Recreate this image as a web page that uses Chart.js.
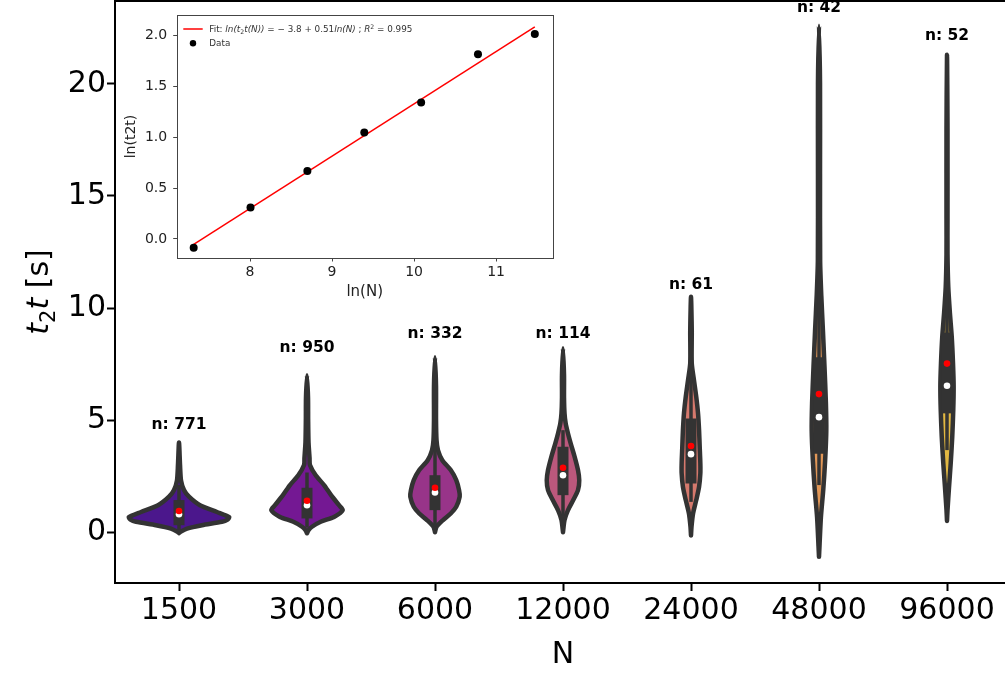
<!DOCTYPE html>
<html><head><meta charset="utf-8">
<script src="https://cdn.jsdelivr.net/npm/chart.js@4.4.1/dist/chart.umd.min.js"></script>
<style>
html,body{margin:0;padding:0;background:#fff;overflow:hidden;width:1005px;height:675px}
#main{position:absolute;left:0;top:0}
#inset{position:absolute;left:117px;top:3px}
</style></head><body>
<canvas id="main" width="1015" height="675"></canvas>
<canvas id="inset" width="445" height="305"></canvas>
<script>
// ---------------- data ----------------
const categories = ['1500','3000','6000','12000','24000','48000','96000'];
const sampleCounts = [771, 950, 332, 114, 61, 42, 52];
const countLabelY = [4.78, 8.21, 8.84, 8.84, 11.03, 23.38, 22.12];
const yTicks = [0, 5, 10, 15, 20];

// violin density profiles: value levels (top -> bottom) and half widths (category units)
const violinLevels = [
  [4.0, 3.0, 2.3, 1.88, 1.58, 1.2, 0.9, 0.67, 0.56, 0.46, 0.31, 0.16, 0.02, -0.04],
  [7.0, 6.0, 5.0, 4.0, 3.3, 3.0, 2.54, 2.1, 1.65, 1.2, 0.98, 0.68, 0.46, 0.24, 0.09, -0.05],
  [7.8, 6.5, 5.0, 4.1, 3.66, 3.21, 2.77, 2.32, 1.875, 1.58, 1.13, 0.83, 0.54, 0.24, 0.0],
  [8.2, 7.0, 6.0, 5.3, 4.85, 4.4, 3.96, 3.36, 2.77, 2.32, 1.875, 1.43, 0.98, 0.54, 0.0],
  [10.5, 9.0, 7.53, 6.79, 6.04, 5.3, 4.55, 3.81, 3.07, 2.62, 2.02, 1.43, 0.83, 0.24, -0.15],
  [22.6, 20.0, 16.0, 12.1, 10.55, 8.96, 7.37, 5.76, 4.5, 3.2, 1.94, 0.67, -0.61, -1.1],
  [21.3, 18.0, 14.0, 12.4, 10.95, 9.76, 8.72, 7.53, 6.49, 5.45, 4.25, 3.07, 2.02, 0.98, 0.5]
];
const violinHalfWidths = [
  [0, 0.008, 0.016, 0.039, 0.078, 0.164, 0.297, 0.391, 0.379, 0.336, 0.180, 0.063, 0.012, 0],
  [0, 0.008, 0.009, 0.012, 0.020, 0.023, 0.068, 0.133, 0.188, 0.250, 0.279, 0.211, 0.107, 0.039, 0.012, 0],
  [0, 0.008, 0.008, 0.012, 0.023, 0.057, 0.123, 0.166, 0.188, 0.193, 0.166, 0.123, 0.063, 0.012, 0],
  [0, 0.008, 0.008, 0.012, 0.021, 0.039, 0.060, 0.091, 0.117, 0.127, 0.117, 0.080, 0.039, 0.012, 0],
  [0, 0.006, 0.006, 0.023, 0.041, 0.055, 0.063, 0.068, 0.073, 0.073, 0.063, 0.041, 0.016, 0.004, 0],
  [0, 0.008, 0.008, 0.009, 0.018, 0.031, 0.043, 0.054, 0.057, 0.048, 0.034, 0.015, 0.004, 0],
  [0, 0.004, 0.004, 0.004, 0.010, 0.023, 0.037, 0.047, 0.052, 0.049, 0.041, 0.029, 0.016, 0.004, 0]
];
const boxQ1 = [0.31, 0.61, 0.98, 1.65, 2.17, 3.5, 5.3];
const boxQ3 = [1.43, 1.98, 2.54, 3.81, 5.07, 7.8, 8.9];
const whiskerLow = [0.10, 0.20, 0.24, 0.68, 1.35, 2.1, 3.66];
const whiskerHigh = [2.10, 2.66, 3.96, 4.55, 7.2, 12.0, 11.5];
const medians = [0.80, 1.20, 1.77, 2.54, 3.48, 5.13, 6.53];
const means = [0.94, 1.40, 1.98, 2.87, 3.84, 6.16, 7.52];

// inset: log-log fit
const insetLnN = [7.313, 8.006, 8.699, 9.393, 10.086, 10.779, 11.472];
const insetLnT = [-0.085, 0.31, 0.668, 1.049, 1.344, 1.819, 2.017];
const fitLineX = [7.313, 11.472];
const fitLineY = [-0.054, 2.088];
const insetXTicks = [8, 9, 10, 11];
const insetYTicks = [0, 0.5, 1.0, 1.5, 2.0];

// ---------------- styles ----------------
const violinColors = ['#4b178c', '#741893', '#983489', '#bb587c', '#d5796d', '#e19757', '#e2b842'];
const FAM = '"DejaVu Sans", sans-serif';
Chart.defaults.font.family = FAM;
Chart.defaults.color = '#000';

function drawRich(ctx, runs, x, y, size, align) {
  const spec = r => {
    const k = r[1];
    if (k === 'sub') return {font: (size * 0.7).toFixed(2) + 'px ' + FAM, dy: size * 0.22};
    if (k === 'sup') return {font: (size * 0.7).toFixed(2) + 'px ' + FAM, dy: -size * 0.38};
    return {font: (k === 'i' ? 'italic ' : '') + size + 'px ' + FAM, dy: 0};
  };
  let total = 0; const ws = [];
  for (const r of runs) { ctx.font = spec(r).font; const w = ctx.measureText(r[0]).width; ws.push(w); total += w; }
  let cx = align === 'center' ? x - total / 2 : x;
  ctx.textBaseline = 'alphabetic'; ctx.textAlign = 'left';
  runs.forEach((r, i) => { const s = spec(r); ctx.font = s.font; ctx.fillText(r[0], cx, y + s.dy); cx += ws[i]; });
}

function violinPoints(i) {
  const lv = violinLevels[i], hw = violinHalfWidths[i];
  const right = lv.map((v, k) => ({x: i + hw[k], y: v})).reverse();
  const left = lv.map((v, k) => ({x: i - hw[k], y: v}));
  return right.concat(left.slice(1));
}
function noPad(s) { s.paddingTop = 0; s.paddingBottom = 0; s.paddingLeft = 0; s.paddingRight = 0; }

// ---------------- main chart ----------------
const datasets = [];
datasets.push({type: 'scatter', data: means.map((v, i) => ({x: i, y: v})), pointRadius: 3.3,
  pointBackgroundColor: '#ff0000', pointBorderWidth: 0, pointHoverRadius: 3.3, order: 0});
datasets.push({type: 'scatter', data: medians.map((v, i) => ({x: i, y: v})), pointRadius: 3.3,
  pointBackgroundColor: '#ffffff', pointBorderWidth: 0, pointHoverRadius: 3.3, order: 1});
categories.forEach((c, i) => {
  datasets.push({type: 'line', data: [{x: i, y: boxQ1[i]}, {x: i, y: boxQ3[i]}], borderColor: '#333333',
    borderWidth: 11, borderCapStyle: 'butt', pointRadius: 0, fill: false, order: 2});
  datasets.push({type: 'line', data: [{x: i, y: whiskerLow[i]}, {x: i, y: whiskerHigh[i]}], borderColor: '#333333',
    borderWidth: 3.5, borderCapStyle: 'butt', pointRadius: 0, fill: false, order: 3});
  datasets.push({type: 'line', data: violinPoints(i), borderColor: '#333333', backgroundColor: violinColors[i],
    borderWidth: 4.5, borderJoinStyle: 'round', borderCapStyle: 'round', pointRadius: 0, fill: 'shape',
    tension: 0.25, order: 4});
});

const mainDecor = {
  id: 'mainDecor',
  afterDatasetsDraw(chart) {
    const ctx = chart.ctx, xs = chart.scales.x, ys = chart.scales.y;
    ctx.save();
    ctx.fillStyle = '#000';
    ctx.font = 'bold 15.5px ' + FAM;
    ctx.textAlign = 'center'; ctx.textBaseline = 'middle';
    sampleCounts.forEach((n, i) => {
      ctx.fillText('n: ' + n, xs.getPixelForValue(i), ys.getPixelForValue(countLabelY[i]));
    });
    ctx.restore();
  },
  afterDraw(chart) {
    const ctx = chart.ctx, a = chart.chartArea;
    ctx.save();
    ctx.strokeStyle = '#000'; ctx.lineWidth = 2;
    ctx.strokeRect(a.left, a.top, a.right - a.left, a.bottom - a.top);
    ctx.fillStyle = '#000';
    ctx.translate(48, (a.top + a.bottom) / 2);
    ctx.rotate(-Math.PI / 2);
    drawRich(ctx, [['t', 'i'], ['2', 'sub'], ['t', 'i'], [' [s]', 'n']], 0, 0, 30, 'center');
    ctx.restore();
  }
};

new Chart(document.getElementById('main'), {
  type: 'line',
  data: {datasets},
  options: {
    responsive: false, animation: false, devicePixelRatio: 1,
    layout: {autoPadding: false, padding: {left: 0, top: 1, right: 4, bottom: 0}},
    plugins: {legend: {display: false}, tooltip: {enabled: false}},
    scales: {
      x: {
        type: 'linear', min: -0.5, max: 6.5,
        afterBuildTicks: s => { s.ticks = categories.map((c, i) => ({value: i})); },
        afterFit: s => { s.height = 92; noPad(s); },
        ticks: {callback: v => categories[v] ?? '', font: {size: 30}, color: '#000', padding: 2, maxRotation: 0, autoSkip: false},
        grid: {drawOnChartArea: false, drawTicks: true, tickLength: 8, tickWidth: 2, tickColor: '#000'},
        border: {display: false},
        title: {display: true, text: 'N', font: {size: 30}, color: '#000', padding: {top: 0, bottom: 2}}
      },
      y: {
        type: 'linear', min: -2.27, max: 23.7,
        afterBuildTicks: s => { s.ticks = yTicks.map(v => ({value: v})); },
        afterFit: s => { s.width = 115; noPad(s); },
        ticks: {font: {size: 30}, color: '#000', padding: 1},
        grid: {drawOnChartArea: false, drawTicks: true, tickLength: 8, tickWidth: 2, tickColor: '#000'},
        border: {display: false}
      }
    }
  },
  plugins: [mainDecor]
});

// ---------------- inset chart ----------------
const insetDecor = {
  id: 'insetDecor',
  afterDraw(chart) {
    const ctx = chart.ctx, a = chart.chartArea;
    ctx.save();
    ctx.strokeStyle = '#444'; ctx.lineWidth = 1;
    ctx.strokeRect(Math.round(a.left) + 0.5, Math.round(a.top) + 0.5, Math.round(a.right - a.left), Math.round(a.bottom - a.top));
    // legend
    ctx.strokeStyle = '#ff0000'; ctx.lineWidth = 1.5;
    ctx.beginPath(); ctx.moveTo(66.3, 26); ctx.lineTo(85.7, 26); ctx.stroke();
    ctx.fillStyle = '#000';
    ctx.beginPath(); ctx.arc(76, 40.3, 3.2, 0, Math.PI * 2); ctx.fill();
    ctx.fillStyle = '#333';
    drawRich(ctx, [['Fit: ', 'n'], ['ln(t', 'i'], ['2', 'sub'], ['t(N))', 'i'], [' = \u2212 3.8 + 0.51', 'n'],
      ['ln(N)', 'i'], [' ; ', 'n'], ['R', 'i'], ['2', 'sup'], [' = 0.995', 'n']], 92.3, 29, 8.8, 'left');
    drawRich(ctx, [['Data', 'n']], 92.3, 43.3, 8.8, 'left');
    ctx.restore();
  }
};

new Chart(document.getElementById('inset'), {
  type: 'line',
  data: {datasets: [
    {type: 'scatter', data: insetLnN.map((x, i) => ({x, y: insetLnT[i]})), pointRadius: 4,
      pointBackgroundColor: '#000', pointBorderWidth: 0, order: 0},
    {type: 'line', data: fitLineX.map((x, i) => ({x, y: fitLineY[i]})), borderColor: '#ff0000',
      borderWidth: 1.5, pointRadius: 0, fill: false, order: 1}
  ]},
  options: {
    responsive: false, animation: false, devicePixelRatio: 1,
    layout: {autoPadding: false, padding: {left: 0, top: 12, right: 9.3, bottom: 0}},
    plugins: {legend: {display: false}, tooltip: {enabled: false}},
    scales: {
      x: {
        type: 'linear', min: 7.106, max: 11.69,
        afterBuildTicks: s => { s.ticks = insetXTicks.map(v => ({value: v})); },
        afterFit: s => { s.height = 50; noPad(s); },
        ticks: {font: {size: 14}, color: '#222', padding: 2, maxRotation: 0},
        grid: {drawOnChartArea: false, drawTicks: true, tickLength: 3.5, tickWidth: 1, tickColor: '#444'},
        border: {display: false},
        title: {display: true, text: 'ln(N)', font: {size: 15}, color: '#222', padding: {top: 0, bottom: 6.7}}
      },
      y: {
        type: 'linear', min: -0.187, max: 2.204,
        afterBuildTicks: s => { s.ticks = insetYTicks.map(v => ({value: v})); },
        afterFit: s => { s.width = 59.7; noPad(s); },
        ticks: {font: {size: 14}, color: '#222', padding: 6, callback: v => Number(v).toFixed(1)},
        grid: {drawOnChartArea: false, drawTicks: true, tickLength: 3.5, tickWidth: 1, tickColor: '#444'},
        border: {display: false},
        title: {display: true, text: 'ln(t2t)', font: {size: 14}, color: '#222', padding: {top: 6.3, bottom: 0}}
      }
    }
  },
  plugins: [insetDecor]
});
</script>
</body></html>
